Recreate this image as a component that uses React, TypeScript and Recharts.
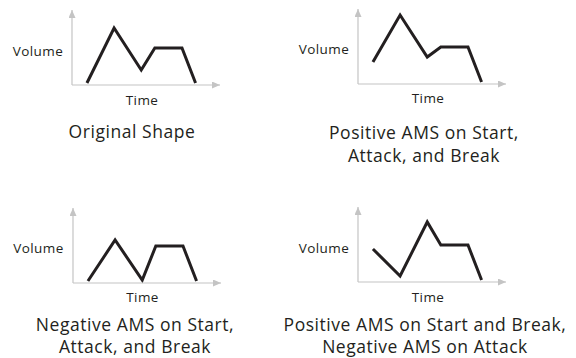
import React from "react";
import { LineChart, Line, XAxis, YAxis } from "recharts";

// ---- data ----
const TIME = [0, 2, 4, 5, 7, 8];
const ORIGINAL = [2, 57, 15, 37, 37, 2];
const POS_START_ATTACK_BREAK = [22, 69, 27, 37, 37, 2];
const NEG_START_ATTACK_BREAK = [2, 43, 3, 37, 37, 2];
const POS_START_BREAK_NEG_ATTACK = [33, 6, 60, 37, 37, 2];

const TITLE_1 = ["Original Shape"];
const TITLE_2 = ["Positive AMS on Start,", "Attack, and Break"];
const TITLE_3 = ["Negative AMS on Start,", "Attack, and Break"];
const TITLE_4 = ["Positive AMS on Start and Break,", "Negative AMS on Attack"];

const Y_LABEL = "Volume";
const X_LABEL = "Time";

const build = (vals: number[]) => TIME.map((t, i) => ({ t, v: vals[i] }));

// ---- layout ----
const PLOT_W = 148;
const PLOT_H = 75;
const M = { top: 6, right: 8, bottom: 4, left: 4 };
const AXIS = "#c4c4c4";
const INK = "#231f20";
const FONT = "'Open Sans', 'Noto Sans', sans-serif";

type PanelProps = {
  axisX: number;
  axisY: number;
  values: number[];
  title: string[];
  titleCx: number;
  titleCy: number;
  lineGap: number;
};

function Panel({ axisX, axisY, values, title, titleCx, titleCy, lineGap }: PanelProps) {
  const data = build(values);
  const chartW = PLOT_W + M.left + 1 + M.right;
  const chartH = PLOT_H + M.top + 1 + M.bottom;
  return (
    <>
      <div style={{ position: "absolute", left: axisX - M.left - 1, top: axisY - PLOT_H - M.top }}>
        <LineChart width={chartW} height={chartH} data={data} margin={M}>
          <XAxis
            type="number"
            dataKey="t"
            domain={[-1.1, 9.8]}
            height={1}
            tick={false}
            tickLine={false}
            axisLine={{ stroke: AXIS, strokeWidth: 1.2, markerEnd: "url(#arrowHead)" }}
          />
          <YAxis
            type="number"
            domain={[0, 75]}
            width={1}
            tick={false}
            tickLine={false}
            axisLine={{ stroke: AXIS, strokeWidth: 1.2, markerStart: "url(#arrowHead)" }}
          />
          <Line
            type="linear"
            dataKey="v"
            stroke={INK}
            strokeWidth={3}
            strokeLinejoin="miter"
            strokeLinecap="butt"
            dot={false}
            activeDot={false}
            isAnimationActive={false}
          />
        </LineChart>
      </div>
      <div
        style={{
          position: "absolute",
          left: axisX - 34 - 40,
          top: axisY - 34.5 - 8,
          width: 80,
          textAlign: "center",
          fontFamily: FONT,
          fontSize: 13.5,
          letterSpacing: 0.4,
          lineHeight: "16px",
          color: INK,
        }}
      >
        {Y_LABEL}
      </div>
      <div
        style={{
          position: "absolute",
          left: axisX + 70 - 40,
          top: axisY + 14.5 - 8,
          width: 80,
          textAlign: "center",
          fontFamily: FONT,
          fontSize: 13.5,
          letterSpacing: 0.4,
          lineHeight: "16px",
          color: INK,
        }}
      >
        {X_LABEL}
      </div>
      {title.map((l, i) => (
        <div
          key={i}
          style={{
            position: "absolute",
            left: titleCx - 150,
            top: titleCy + i * lineGap - 9,
            width: 300,
            textAlign: "center",
            fontFamily: FONT,
            fontSize: 17.5,
            letterSpacing: 0.55,
            lineHeight: "18px",
            color: INK,
            whiteSpace: "nowrap",
          }}
        >
          {l}
        </div>
      ))}
    </>
  );
}

export default function App() {
  return (
    <div
      style={{
        position: "absolute",
        left: 0,
        top: 0,
        width: 576,
        height: 358,
        background: "#ffffff",
        overflow: "hidden",
      }}
    >
      <svg width={0} height={0} style={{ position: "absolute" }}>
        <defs>
          <marker
            id="arrowHead"
            markerUnits="userSpaceOnUse"
            markerWidth={8}
            markerHeight={7}
            refX={8}
            refY={3.5}
            orient="auto-start-reverse"
          >
            <path d="M0,0 L8,3.5 L0,7 z" fill={AXIS} />
          </marker>
        </defs>
      </svg>
      <Panel axisX={72} axisY={85} values={ORIGINAL} title={TITLE_1} titleCx={132} titleCy={131} lineGap={23.5} />
      <Panel axisX={358} axisY={83.5} values={POS_START_ATTACK_BREAK} title={TITLE_2} titleCx={424} titleCy={131.5} lineGap={23.5} />
      <Panel axisX={72.5} axisY={282.5} values={NEG_START_ATTACK_BREAK} title={TITLE_3} titleCx={135} titleCy={323.5} lineGap={22.5} />
      <Panel axisX={358} axisY={282} values={POS_START_BREAK_NEG_ATTACK} title={TITLE_4} titleCx={425} titleCy={323.5} lineGap={22.5} />
    </div>
  );
}
